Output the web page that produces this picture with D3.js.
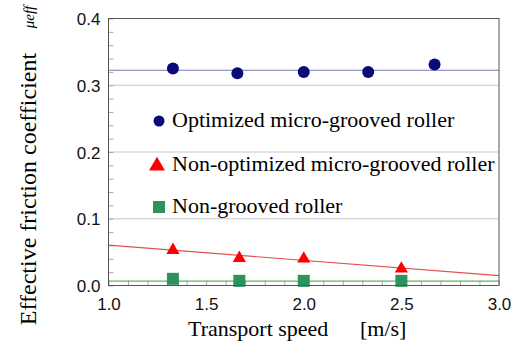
<!DOCTYPE html>
<html>
<head>
<meta charset="utf-8">
<script src="https://cdn.jsdelivr.net/npm/d3@7"></script>
</head>
<body style="margin:0">
<svg id="chart" width="517" height="344"></svg>
<script>
// data
const optSpeed = [1.33, 1.66, 2.0, 2.33, 2.67];
const optMu = [0.325, 0.318, 0.320, 0.320, 0.331];
const nonOptSpeed = [1.33, 1.67, 2.0, 2.5];
const nonOptMu = [0.053, 0.041, 0.040, 0.025];
const nonGrooveSpeed = [1.33, 1.67, 2.0, 2.5];
const nonGrooveMu = [0.010, 0.007, 0.007, 0.007];
// fitted lines (value at x = 1.0 and x = 3.0)
const optFit = [0.3225, 0.3225];
const nonOptFit = [0.0605, 0.0148];
const nonGrooveFit = [0.0066, 0.0066];
const xTicks = [1.0, 1.5, 2.0, 2.5, 3.0];
const yTicks = [0.0, 0.1, 0.2, 0.3, 0.4];
const legendLabels = ['Optimized micro-grooved roller', 'Non-optimized micro-grooved roller', 'Non-grooved roller'];

const SERIF = "'Liberation Serif'";
const SANS = "'Liberation Sans'";

const width = 517, height = 344;
const margin = { top: 18.5, right: 18, bottom: 58.5, left: 108.5 };
const w = width - margin.left - margin.right;
const h = height - margin.top - margin.bottom;

const svg = d3.select('#chart');

const g = svg.append('g')
  .attr('transform', 'translate(' + margin.left + ',' + margin.top + ')');

const x = d3.scaleLinear().domain([1.0, 3.0]).range([0, w]);
const y = d3.scaleLinear().domain([0, 0.4]).range([h, 0]);

// horizontal grid lines
g.selectAll('.grid')
  .data(yTicks.slice(1, -1))
  .enter()
  .append('line')
  .attr('class', 'grid')
  .attr('x1', 0).attr('x2', w)
  .attr('y1', d => y(d)).attr('y2', d => y(d))
  .attr('stroke', '#c8c8c8')
  .attr('stroke-width', 1);

// minor ticks (inside)
const yMinor = d3.range(0, 41, 2).map(v => v / 100);
const xMinor = d3.range(10, 31).map(v => v / 10);

g.append('g')
  .call(d3.axisLeft(y).tickValues(yMinor).tickSize(-5).tickFormat(''))
  .call(a => a.select('.domain').remove())
  .selectAll('line').attr('stroke', '#aaa');

g.append('g')
  .attr('transform', 'translate(0,' + h + ')')
  .call(d3.axisBottom(x).tickValues(xMinor).tickSize(-5).tickFormat(''))
  .call(a => a.select('.domain').remove())
  .selectAll('line').attr('stroke', '#aaa');

// tick labels
g.append('g')
  .call(d3.axisLeft(y).tickValues(yTicks).tickSize(0).tickPadding(8).tickFormat(d3.format('.1f')))
  .call(a => a.select('.domain').remove())
  .selectAll('text')
  .style('font-family', SANS)
  .style('font-size', '17px')
  .attr('fill', '#111')
  .attr('dy', '0.36em');

g.append('g')
  .attr('transform', 'translate(0,' + h + ')')
  .call(d3.axisBottom(x).tickValues(xTicks).tickSize(0).tickPadding(12).tickFormat(d3.format('.1f')))
  .call(a => a.select('.domain').remove())
  .selectAll('text')
  .style('font-family', SANS)
  .style('font-size', '17px')
  .attr('fill', '#111');

// fitted lines
const fitLine = d3.line().x(d => x(d[0])).y(d => y(d[1]));
const fits = [
  { v: optFit, color: '#7a7ab6' },
  { v: nonOptFit, color: '#e05050' },
  { v: nonGrooveFit, color: '#5cb85c' }
];
fits.forEach(f => {
  g.append('path')
    .attr('d', fitLine([[1.0, f.v[0]], [3.0, f.v[1]]]))
    .attr('fill', 'none')
    .attr('stroke', f.color)
    .attr('stroke-width', 1.2);
});

// markers
const circleColor = '#0a0a7a';
const triColor = '#ff0000';
const squareColor = '#2e9160';

g.selectAll('.opt')
  .data(d3.zip(optSpeed, optMu))
  .enter()
  .append('circle')
  .attr('class', 'opt')
  .attr('cx', d => x(d[0]))
  .attr('cy', d => y(d[1]))
  .attr('r', 6)
  .attr('fill', circleColor);

const tri = d3.symbol().type(d3.symbolTriangle).size(75);
g.selectAll('.nonopt')
  .data(d3.zip(nonOptSpeed, nonOptMu))
  .enter()
  .append('path')
  .attr('class', 'nonopt')
  .attr('d', tri)
  .attr('transform', d => 'translate(' + x(d[0]) + ',' + y(d[1]) + ')')
  .attr('fill', triColor);

g.selectAll('.nongroove')
  .data(d3.zip(nonGrooveSpeed, nonGrooveMu))
  .enter()
  .append('rect')
  .attr('class', 'nongroove')
  .attr('x', d => x(d[0]) - 6)
  .attr('y', d => y(d[1]) - 6)
  .attr('width', 12)
  .attr('height', 12)
  .attr('fill', squareColor);

// frame
g.append('rect')
  .attr('width', w)
  .attr('height', h)
  .attr('fill', 'none')
  .attr('stroke', '#555')
  .attr('stroke-width', 1);

// legend
const legendY = [121, 165, 207];
svg.append('circle')
  .attr('cx', 159).attr('cy', legendY[0]).attr('r', 5.5)
  .attr('fill', circleColor);
svg.append('path')
  .attr('d', d3.symbol().type(d3.symbolTriangle).size(110))
  .attr('transform', 'translate(157,' + (legendY[1] + 1) + ')')
  .attr('fill', triColor);
svg.append('rect')
  .attr('x', 153).attr('y', legendY[2] - 6)
  .attr('width', 12).attr('height', 12)
  .attr('fill', squareColor);

legendLabels.forEach((label, i) => {
  svg.append('text')
    .attr('x', 172)
    .attr('y', legendY[i] + 6)
    .style('font-family', SERIF)
    .style('font-size', '22px')
    .text(label);
});

// axis titles
svg.append('text')
  .attr('transform', 'translate(36,189) rotate(-90)')
  .attr('text-anchor', 'middle')
  .style('font-family', SERIF)
  .style('font-size', '24px')
  .text('Effective friction coefficient');

svg.append('text')
  .attr('transform', 'translate(34,17) rotate(-90)')
  .attr('text-anchor', 'middle')
  .style('font-family', SERIF)
  .style('font-style', 'italic')
  .style('font-size', '15px')
  .text('μeff');

svg.append('text')
  .attr('x', 188)
  .attr('y', 336)
  .style('font-family', SERIF)
  .style('font-size', '22px')
  .text('Transport speed');

svg.append('text')
  .attr('x', 360)
  .attr('y', 336)
  .style('font-family', SERIF)
  .style('font-size', '22px')
  .text('[m/s]');
</script>
</body>
</html>
